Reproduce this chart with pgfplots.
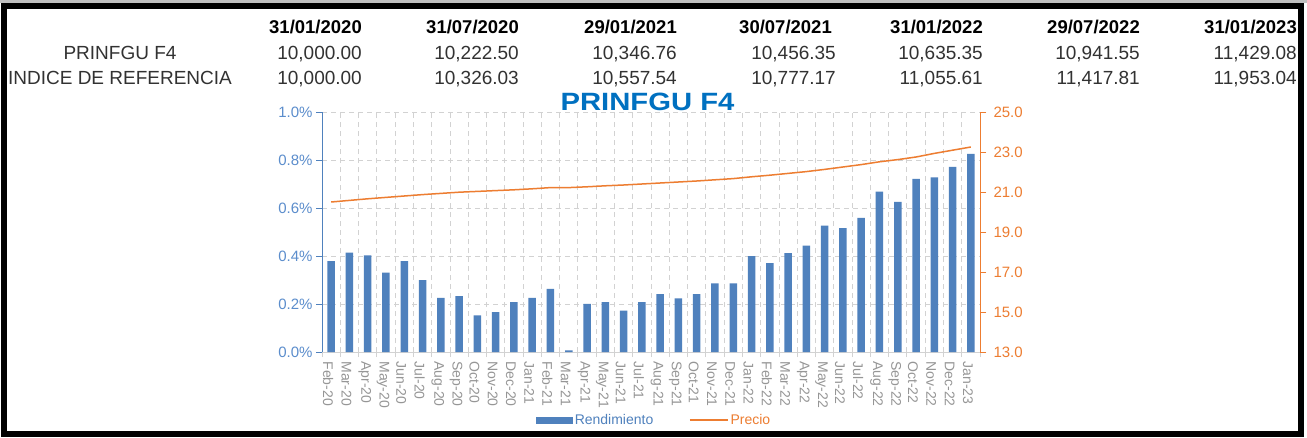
\documentclass[border=0pt]{standalone}
\usepackage{fontspec}
\setmainfont{Liberation Sans}
\usepackage{pgfplots}
\pgfplotsset{compat=1.18}
\definecolor{barblue}{RGB}{79,129,189}
\definecolor{lblue}{RGB}{91,141,204}
\definecolor{orng}{RGB}{237,125,49}
\definecolor{ttlblue}{RGB}{0,112,192}
\definecolor{gridc}{RGB}{210,210,210}
\definecolor{lblgray}{RGB}{150,150,150}
\definecolor{tbltext}{RGB}{50,50,50}
\begin{document}
\begin{tikzpicture}[x=1pt,y=1pt]
\fill[white] (0,0) rectangle (1307,437);
\useasboundingbox (0,0) rectangle (1307,437);
\fill[gray!50] (0,434) rectangle (1307,437);
\draw[black, line width=6pt] (3.5,3) rectangle (1301,430.5);

\begin{axis}[
  at={(322pt,85pt)}, anchor=south west,
  scale only axis, width=658pt, height=240pt,
  xmin=-0.5, xmax=35.5, ymin=0, ymax=1,
  axis x line*=bottom, axis y line*=left,
  x axis line style={draw=gridc, line width=0.8pt, -},
  y axis line style={draw=barblue, line width=0.8pt, -},
  tick align=outside, major tick length=6pt, minor tick length=5pt,
  xtick={0,...,35},
  xticklabels={Feb-20,Mar-20,Apr-20,May-20,Jun-20,Jul-20,Aug-20,Sep-20,Oct-20,Nov-20,Dec-20,Jan-21,Feb-21,Mar-21,Apr-21,May-21,Jun-21,Jul-21,Aug-21,Sep-21,Oct-21,Nov-21,Dec-21,Jan-22,Feb-22,Mar-22,Apr-22,May-22,Jun-22,Jul-22,Aug-22,Sep-22,Oct-22,Nov-22,Dec-22,Jan-23},
  major x tick style={draw=none},
  minor xtick={-0.5,0.5,...,35.5},
  minor x tick style={draw=gridc, line width=0.8pt},
  xminorgrids, ymajorgrids,
  minor grid style={draw=gridc, line width=0.8pt, dash pattern=on 5pt off 4pt},
  major grid style={draw=gridc, line width=0.8pt, dash pattern=on 5pt off 4pt},
  xticklabel style={rotate=-90, anchor=west, font=\fontsize{14}{15}\selectfont, text=lblgray, yshift=-3pt},
  ytick={0,0.2,0.4,0.6,0.8,1.0},
  ytick style={draw=barblue, line width=0.8pt},
  yticklabel={\pgfmathprintnumber[fixed,fixed zerofill,precision=1,assume math mode=true]{\tick}\%},
  yticklabel style={font=\fontsize{15}{16}\selectfont, text=lblue},
]
\addplot[ybar, bar width=7.5pt, fill=barblue, draw=none] coordinates {
(0,0.379) (1,0.414) (2,0.403) (3,0.331) (4,0.379) (5,0.299) (6,0.226) (7,0.233) (8,0.153)
(9,0.166) (10,0.208) (11,0.226) (12,0.263) (13,0.007) (14,0.201) (15,0.208) (16,0.172) (17,0.208)
(18,0.241) (19,0.223) (20,0.241) (21,0.286) (22,0.286) (23,0.400) (24,0.370) (25,0.412) (26,0.443)
(27,0.527) (28,0.516) (29,0.559) (30,0.668) (31,0.626) (32,0.721) (33,0.728) (34,0.771) (35,0.826)
};
\end{axis}

\begin{axis}[
  at={(322pt,85pt)}, anchor=south west,
  scale only axis, width=658pt, height=240pt,
  xmin=-0.5, xmax=35.5, ymin=13, ymax=25,
  axis x line=none, axis y line*=right,
  xtick=\empty,
  y axis line style={draw=orng, line width=0.8pt, -},
  tick align=outside, major tick length=6pt,
  ytick={13,15,17,19,21,23,25},
  ytick style={draw=orng, line width=0.8pt},
  yticklabel={\pgfmathprintnumber[fixed,fixed zerofill,precision=1,assume math mode=true]{\tick}},
  yticklabel style={font=\fontsize{15}{16}\selectfont, text=orng, xshift=4pt},
  legend style={at={(0.505,-0.283)}, anchor=center, draw=none, fill=none,
    font=\fontsize{14}{15}\selectfont, inner sep=0pt,
    /tikz/every even column/.append style={column sep=34pt}},
  legend columns=2,
]
\addlegendimage{legend image code/.code={\fill[barblue] (0pt,-3pt) rectangle (36pt,3pt);}}
\addlegendentry{\textcolor{barblue}{Rendimiento}}
\addplot[orng, line width=1.5pt, legend image code/.code={\draw[orng, line width=1.2pt] (0pt,0pt) -- (38pt,0pt);}] coordinates {
(0,20.50) (1,20.58) (2,20.66) (3,20.73) (4,20.80) (5,20.87) (6,20.93) (7,20.99) (8,21.03)
(9,21.07) (10,21.11) (11,21.16) (12,21.22) (13,21.22) (14,21.26) (15,21.31) (16,21.35) (17,21.40)
(18,21.45) (19,21.50) (20,21.55) (21,21.61) (22,21.67) (23,21.76) (24,21.84) (25,21.93) (26,22.02)
(27,22.13) (28,22.25) (29,22.37) (30,22.51) (31,22.62) (32,22.75) (33,22.93) (34,23.09) (35,23.25)
};
\addlegendentry{\textcolor{orng}{Precio}}
\end{axis}

% title
\node[anchor=base, inner sep=0pt, text=ttlblue, font=\bfseries\fontsize{25}{26}\selectfont] at (647.5,326.5) {\scalebox{1.17}[1]{PRINFGU F4}};

% table
\tikzset{tb/.style={inner sep=0pt, font=\fontsize{19}{20}\selectfont, text=tbltext},
         th/.style={inner sep=0pt, font=\bfseries\fontsize{18.5}{20}\selectfont, text=black}}
\node[tb, anchor=base] at (120,377.5) {PRINFGU F4};
\node[tb, anchor=base] at (120,352.5) {INDICE DE REFERENCIA};
\node[th, anchor=base east] at (362,403.5) {31/01/2020};
\node[th, anchor=base east] at (519,403.5) {31/07/2020};
\node[th, anchor=base east] at (677,403.5) {29/01/2021};
\node[th, anchor=base east] at (832,403.5) {30/07/2021};
\node[th, anchor=base east] at (983,403.5) {31/01/2022};
\node[th, anchor=base east] at (1140,403.5) {29/07/2022};
\node[th, anchor=base east] at (1297,403.5) {31/01/2023};
\node[tb, anchor=base east] at (362,377.5) {10,000.00};
\node[tb, anchor=base east] at (519,377.5) {10,222.50};
\node[tb, anchor=base east] at (677,377.5) {10,346.76};
\node[tb, anchor=base east] at (836,377.5) {10,456.35};
\node[tb, anchor=base east] at (983,377.5) {10,635.35};
\node[tb, anchor=base east] at (1140,377.5) {10,941.55};
\node[tb, anchor=base east] at (1297,377.5) {11,429.08};
\node[tb, anchor=base east] at (362,352.5) {10,000.00};
\node[tb, anchor=base east] at (519,352.5) {10,326.03};
\node[tb, anchor=base east] at (677,352.5) {10,557.54};
\node[tb, anchor=base east] at (836,352.5) {10,777.17};
\node[tb, anchor=base east] at (983,352.5) {11,055.61};
\node[tb, anchor=base east] at (1140,352.5) {11,417.81};
\node[tb, anchor=base east] at (1297,352.5) {11,953.04};
\end{tikzpicture}
\end{document}
